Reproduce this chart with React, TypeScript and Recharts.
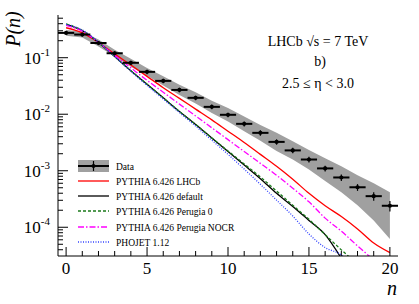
import React from 'react';
import { ComposedChart, Area, Line, Scatter, ErrorBar, XAxis, YAxis, Legend } from 'recharts';

const serif = '"Liberation Serif", "DejaVu Serif", serif';

// multiplicity bins
const nBins = [0, 1, 2, 3, 4, 5, 6, 7, 8, 9, 10, 11, 12, 13, 14, 15, 16, 17, 18, 19, 20];
const binHalfWidth = 0.5;

// measured P(n) with stat error and systematic band
const dataP = [0.275, 0.257, 0.182, 0.12, 0.0813, 0.0562, 0.0389, 0.0269, 0.0195, 0.0135, 0.00977, 0.00676, 0.00468, 0.00324, 0.00229, 0.00158, 0.0011, 0.00076, 0.00051, 0.000355, 0.00024];
const dataErr = [0.02, 0.02, 0.015, 0.01, 0.007, 0.005, 0.0035, 0.0025, 0.0018, 0.0013, 0.0009, 0.0007, 0.0005, 0.00035, 0.00025, 0.00018, 0.00013, 0.0001, 0.00007, 0.00006, 0.00005];
const bandLow = [0.245, 0.229, 0.158, 0.105, 0.0692, 0.0479, 0.0324, 0.0219, 0.0155, 0.0105, 0.00741, 0.00501, 0.00339, 0.00224, 0.00158, 0.00105, 0.00066, 0.000417, 0.000245, 0.000132, 0.0000617];
const bandHigh = [0.309, 0.288, 0.209, 0.138, 0.0955, 0.0661, 0.0468, 0.0331, 0.0245, 0.0174, 0.0129, 0.00912, 0.00646, 0.00468, 0.00331, 0.00234, 0.00166, 0.0012, 0.00083, 0.000603, 0.000417];

// generator predictions
const pythiaLhcb = [0.339, 0.275, 0.186, 0.117, 0.0741, 0.0468, 0.0295, 0.0191, 0.0123, 0.00794, 0.00501, 0.00316, 0.00195, 0.0012, 0.000708, 0.000398, 0.00024, 0.000155, 0.0000933, 0.0000525, 0.0000355];
const pythiaDefault = [0.389, 0.302, 0.186, 0.105, 0.0589, 0.0339, 0.0195, 0.0112, 0.00661, 0.0038, 0.00219, 0.00126, 0.000724, 0.000398, 0.000234, 0.000132, 0.0000741, 0.0000282];
const perugia0 = [0.398, 0.302, 0.186, 0.105, 0.0589, 0.0339, 0.0195, 0.0112, 0.00661, 0.0038, 0.00224, 0.00132, 0.000776, 0.000437, 0.000245, 0.000138, 0.0000741, 0.0000398, 0.0000224];
const perugiaNocr = [0.372, 0.295, 0.186, 0.11, 0.0661, 0.0398, 0.0245, 0.0151, 0.00933, 0.00575, 0.00355, 0.00219, 0.00135, 0.000832, 0.00049, 0.000282, 0.000145, 0.0000851, 0.0000468, 0.0000263];
const phojet = [0.389, 0.309, 0.191, 0.105, 0.0575, 0.0324, 0.0186, 0.0107, 0.00617, 0.00347, 0.00195, 0.00107, 0.000575, 0.000302, 0.000158, 0.0000759, 0.0000437, 0.0000324, 0.0000158];

const yTicks = [4e-5, 5e-5, 6e-5, 7e-5, 8e-5, 9e-5, 1e-4, 2e-4, 3e-4, 4e-4, 5e-4, 6e-4, 7e-4, 8e-4, 9e-4, 1e-3, 2e-3, 3e-3, 4e-3, 5e-3, 6e-3, 7e-3, 8e-3, 9e-3, 1e-2, 2e-2, 3e-2, 4e-2, 5e-2, 6e-2, 7e-2, 8e-2, 9e-2, 1e-1, 2e-1, 3e-1, 4e-1, 5e-1];
const yMajor: Record<string, string> = { '0.0001': '-4', '0.001': '-3', '0.01': '-2', '0.1': '-1' };

const rows = nBins.map((n, i) => ({
  n,
  data: dataP[i],
  ex: binHalfWidth,
  ey: dataErr[i],
  band: [bandLow[i], bandHigh[i]],
  lhcb: pythiaLhcb[i] ?? null,
  def: pythiaDefault[i] ?? null,
  p0: perugia0[i] ?? null,
  nocr: perugiaNocr[i] ?? null,
  pho: phojet[i] ?? null,
}));

const series = [
  { key: 'lhcb', label: 'PYTHIA 6.426 LHCb', color: '#ff0000', dash: undefined },
  { key: 'def', label: 'PYTHIA 6.426 default', color: '#000000', dash: undefined },
  { key: 'p0', label: 'PYTHIA 6.426 Perugia 0', color: '#1a7a1a', dash: '3 2' },
  { key: 'nocr', label: 'PYTHIA 6.426 Perugia NOCR', color: '#ff00ff', dash: '6 2 1.5 2' },
  { key: 'pho', label: 'PHOJET 1.12', color: '#3344ff', dash: '1 1.5' },
];

function BottomTick({ x, y, payload }: any) {
  const v = payload.value;
  const major = v % 5 === 0;
  return (
    <g>
      <line x1={x} x2={x} y1={y} y2={y - (major ? 9 : 5)} stroke="#000" />
      {major && (
        <text x={x} y={y + 18} textAnchor="middle" fontSize={17} fontFamily={serif} fill="#000">
          {v}
        </text>
      )}
    </g>
  );
}

function TopTick({ x, y, payload }: any) {
  const major = payload.value % 5 === 0;
  return <line x1={x} x2={x} y1={y} y2={y + (major ? 9 : 5)} stroke="#000" />;
}

function LeftTick({ x, y, payload }: any) {
  const exp = yMajor[String(payload.value)];
  return (
    <g>
      <line x1={x} x2={x + (exp ? 10 : 5)} y1={y} y2={y} stroke="#000" />
      {exp && (
        <text x={x - 8} y={y + 6} textAnchor="end" fontSize={17} fontFamily={serif} fill="#000">
          <tspan>10</tspan>
          <tspan dy={-8} fontSize={11}>{exp}</tspan>
        </text>
      )}
    </g>
  );
}

function RightTick({ x, y, payload }: any) {
  const exp = yMajor[String(payload.value)];
  return <line x1={x} x2={x - (exp ? 10 : 5)} y1={y} y2={y} stroke="#000" />;
}

function LegendBox() {
  const rowY = [12, 27, 42, 57, 73, 88];
  return (
    <svg width={200} height={100} style={{ overflow: 'visible' }}>
      <rect x={6} y={rowY[0] - 6} width={31} height={12} fill="#a0a0a0" />
      <line x1={6} x2={37} y1={rowY[0]} y2={rowY[0]} stroke="#000" strokeWidth={2} />
      <line x1={21.5} x2={21.5} y1={rowY[0] - 5} y2={rowY[0] + 5} stroke="#000" strokeWidth={1.2} />
      <circle cx={21.5} cy={rowY[0]} r={2} fill="#000" />
      <text x={44} y={rowY[0] + 3.5} fontSize={9.5} fontFamily={serif} fill="#000">Data</text>
      {series.map((s, i) => (
        <g key={s.key}>
          <line x1={6} x2={37} y1={rowY[i + 1]} y2={rowY[i + 1]} stroke={s.color} strokeWidth={1.3} strokeDasharray={s.dash} />
          <text x={44} y={rowY[i + 1] + 3.5} fontSize={9.5} fontFamily={serif} fill="#000">{s.label}</text>
        </g>
      ))}
    </svg>
  );
}

export default function App() {
  return (
    <div style={{ position: 'absolute', left: 0, top: 0, width: 419, height: 304, background: '#fff' }}>
      <ComposedChart width={419} height={304} data={rows} margin={{ top: 15, right: 21, bottom: 0, left: 0 }}>
        <XAxis
          xAxisId="b"
          dataKey="n"
          type="number"
          domain={[-0.5, 20.5]}
          ticks={nBins}
          interval={0}
          height={48}
          tickSize={0}
          tickMargin={0}
          tick={<BottomTick />}
          axisLine={{ stroke: '#000' }}
          allowDataOverflow
        />
        <XAxis
          xAxisId="t"
          dataKey="n"
          type="number"
          orientation="top"
          domain={[-0.5, 20.5]}
          ticks={nBins}
          interval={0}
          height={0}
          tickSize={0}
          tickMargin={0}
          tick={<TopTick />}
          axisLine={{ stroke: '#000' }}
          allowDataOverflow
        />
        <YAxis
          yAxisId="l"
          scale="log"
          type="number"
          domain={[3.1e-5, 0.57]}
          ticks={yTicks}
          interval={0}
          width={58}
          tickSize={0}
          tickMargin={0}
          tick={<LeftTick />}
          axisLine={{ stroke: '#000' }}
          allowDataOverflow
        />
        <YAxis
          yAxisId="r"
          orientation="right"
          scale="log"
          type="number"
          domain={[3.1e-5, 0.57]}
          ticks={yTicks}
          interval={0}
          width={0}
          tickSize={0}
          tickMargin={0}
          tick={<RightTick />}
          axisLine={{ stroke: '#000' }}
          allowDataOverflow
        />
        <Area
          xAxisId="b"
          yAxisId="l"
          dataKey="band"
          type="linear"
          fill="#a0a0a0"
          fillOpacity={1}
          stroke="none"
          isAnimationActive={false}
        />
        {series.map((s) => (
          <Line
            key={s.key}
            xAxisId="b"
            yAxisId="l"
            dataKey={s.key}
            type="monotone"
            stroke={s.color}
            strokeWidth={1.3}
            strokeDasharray={s.dash}
            dot={false}
            isAnimationActive={false}
          />
        ))}
        <Scatter
          xAxisId="b"
          yAxisId="l"
          dataKey="data"
          isAnimationActive={false}
          shape={(p: any) => <circle cx={p.cx} cy={p.cy} r={2.1} fill="#000" />}
        >
          <ErrorBar dataKey="ex" direction="x" width={0} stroke="#000" strokeWidth={2} />
          <ErrorBar dataKey="ey" direction="y" width={0} stroke="#000" strokeWidth={1.2} />
        </Scatter>
        <Legend
          layout="horizontal"
          verticalAlign="middle"
          align="center"
          content={<LegendBox />}
          wrapperStyle={{ position: 'absolute', left: 72, top: 154, width: 200, height: 100 }}
        />
      </ComposedChart>
      <svg width={419} height={304} style={{ position: 'absolute', left: 0, top: 0, pointerEvents: 'none' }}>
        <text x={20} y={29} transform="rotate(-90 20 29)" textAnchor="middle" fontSize={20} fontStyle="italic" fontFamily={serif} fill="#000">
          P(n)
        </text>
        <text x={392} y={295} textAnchor="middle" fontSize={20} fontStyle="italic" fontFamily={serif} fill="#000">
          n
        </text>
        <text x={318} y={46} textAnchor="middle" fontSize={14} fontFamily={serif} fill="#000">
          LHCb √s = 7 TeV
        </text>
        <text x={320} y={66} textAnchor="middle" fontSize={14} fontFamily={serif} fill="#000">
          b)
        </text>
        <text x={318} y={88} textAnchor="middle" fontSize={14} fontFamily={serif} fill="#000">
          2.5 ≤ η &lt; 3.0
        </text>
      </svg>
    </div>
  );
}
